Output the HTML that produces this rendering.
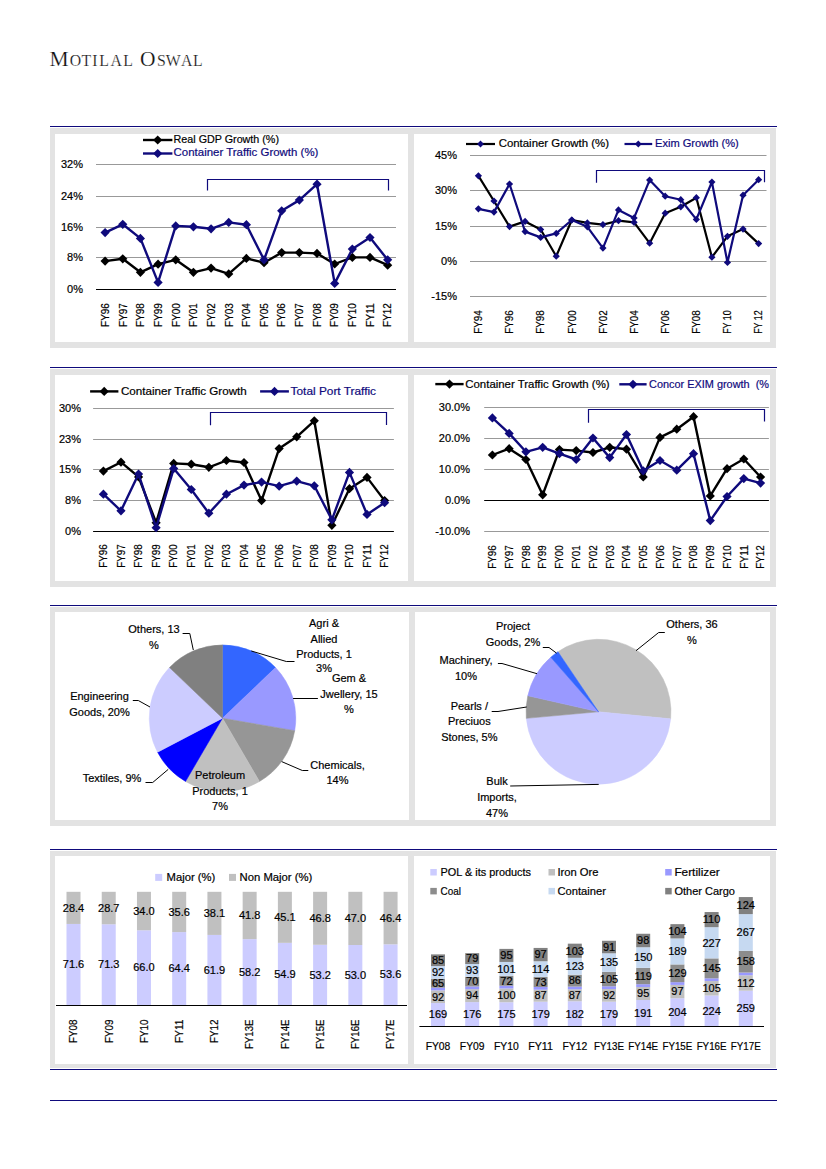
<!DOCTYPE html>
<html><head><meta charset="utf-8"><title>Motilal Oswal</title>
<style>html,body{margin:0;padding:0;background:#fff;}body{width:826px;height:1169px;overflow:hidden;}svg{display:block;font-family:"Liberation Sans", sans-serif;}</style>
</head><body>
<svg width="826" height="1169" viewBox="0 0 826 1169">
<text x="59.15" y="65.6" text-anchor="middle" font-family="Liberation Serif, serif" font-size="21.5" fill="#111" stroke="#fff" stroke-width="0.2">M</text>
<text x="75.45" y="65.6" text-anchor="middle" font-family="Liberation Serif, serif" font-size="15.8" fill="#111" stroke="#fff" stroke-width="0.2">O</text>
<text x="86.25" y="65.6" text-anchor="middle" font-family="Liberation Serif, serif" font-size="15.8" fill="#111" stroke="#fff" stroke-width="0.2">T</text>
<text x="95.00" y="65.6" text-anchor="middle" font-family="Liberation Serif, serif" font-size="15.8" fill="#111" stroke="#fff" stroke-width="0.2">I</text>
<text x="104.10" y="65.6" text-anchor="middle" font-family="Liberation Serif, serif" font-size="15.8" fill="#111" stroke="#fff" stroke-width="0.2">L</text>
<text x="116.30" y="65.6" text-anchor="middle" font-family="Liberation Serif, serif" font-size="15.8" fill="#111" stroke="#fff" stroke-width="0.2">A</text>
<text x="128.00" y="65.6" text-anchor="middle" font-family="Liberation Serif, serif" font-size="15.8" fill="#111" stroke="#fff" stroke-width="0.2">L</text>
<text x="147.80" y="65.6" text-anchor="middle" font-family="Liberation Serif, serif" font-size="21.5" fill="#111" stroke="#fff" stroke-width="0.2">O</text>
<text x="161.40" y="65.6" text-anchor="middle" font-family="Liberation Serif, serif" font-size="15.8" fill="#111" stroke="#fff" stroke-width="0.2">S</text>
<text x="173.25" y="65.6" text-anchor="middle" font-family="Liberation Serif, serif" font-size="15.8" fill="#111" stroke="#fff" stroke-width="0.2">W</text>
<text x="186.60" y="65.6" text-anchor="middle" font-family="Liberation Serif, serif" font-size="15.8" fill="#111" stroke="#fff" stroke-width="0.2">A</text>
<text x="197.95" y="65.6" text-anchor="middle" font-family="Liberation Serif, serif" font-size="15.8" fill="#111" stroke="#fff" stroke-width="0.2">L</text>
<rect x="50.00" y="126.00" width="727.00" height="1.00" fill="#0f0a7c"/>
<rect x="50.00" y="367.00" width="727.00" height="1.00" fill="#0f0a7c"/>
<rect x="50.00" y="605.00" width="727.00" height="1.00" fill="#0f0a7c"/>
<rect x="50.00" y="849.00" width="727.00" height="1.00" fill="#0f0a7c"/>
<rect x="50.00" y="1069.00" width="727.00" height="1.00" fill="#0f0a7c"/>
<rect x="50.00" y="1100.00" width="727.00" height="1.00" fill="#0f0a7c"/>
<rect x="50.00" y="128.00" width="726.00" height="220.00" fill="#e3e3e3"/>
<rect x="55.00" y="134.00" width="353.00" height="208.00" fill="#fff"/>
<rect x="414.00" y="134.00" width="356.00" height="208.00" fill="#fff"/>
<rect x="50.00" y="369.00" width="726.00" height="218.00" fill="#e3e3e3"/>
<rect x="55.00" y="375.00" width="353.00" height="206.00" fill="#fff"/>
<rect x="414.00" y="375.00" width="356.00" height="206.00" fill="#fff"/>
<rect x="50.00" y="607.00" width="726.00" height="219.00" fill="#e3e3e3"/>
<rect x="55.00" y="612.00" width="354.00" height="208.00" fill="#fff"/>
<rect x="415.00" y="612.00" width="355.00" height="208.00" fill="#fff"/>
<rect x="50.00" y="851.00" width="726.00" height="217.00" fill="#e3e3e3"/>
<rect x="55.00" y="856.00" width="353.00" height="208.00" fill="#fff"/>
<rect x="414.00" y="856.00" width="356.00" height="208.00" fill="#fff"/>
<line x1="96.00" y1="164.50" x2="396.00" y2="164.50" stroke="#999999" stroke-width="1"/>
<text x="83.00" y="168.28" font-size="11" text-anchor="end" fill="#000" stroke="#000" stroke-width="0.2" >32%</text>
<line x1="96.00" y1="196.50" x2="396.00" y2="196.50" stroke="#999999" stroke-width="1"/>
<text x="83.00" y="200.28" font-size="11" text-anchor="end" fill="#000" stroke="#000" stroke-width="0.2" >24%</text>
<line x1="96.00" y1="227.50" x2="396.00" y2="227.50" stroke="#999999" stroke-width="1"/>
<text x="83.00" y="231.28" font-size="11" text-anchor="end" fill="#000" stroke="#000" stroke-width="0.2" >16%</text>
<line x1="96.00" y1="257.50" x2="396.00" y2="257.50" stroke="#999999" stroke-width="1"/>
<text x="83.00" y="261.28" font-size="11" text-anchor="end" fill="#000" stroke="#000" stroke-width="0.2" >8%</text>
<line x1="96.00" y1="289.50" x2="396.00" y2="289.50" stroke="#000" stroke-width="1"/>
<text x="83.00" y="293.28" font-size="11" text-anchor="end" fill="#000" stroke="#000" stroke-width="0.2" >0%</text>
<polyline points="105.10,261.10 122.76,258.80 140.42,272.30 158.08,264.20 175.74,259.80 193.40,272.30 211.06,268.10 228.72,273.90 246.38,258.40 264.04,262.70 281.70,252.60 299.36,252.60 317.02,253.40 334.68,264.00 352.34,257.40 370.00,257.40 387.66,265.20" fill="none" stroke="#000" stroke-width="2.4" stroke-linejoin="round"/>
<path d="M105.10,256.50L109.70,261.10L105.10,265.70L100.50,261.10Z" fill="#000"/>
<path d="M122.76,254.20L127.36,258.80L122.76,263.40L118.16,258.80Z" fill="#000"/>
<path d="M140.42,267.70L145.02,272.30L140.42,276.90L135.82,272.30Z" fill="#000"/>
<path d="M158.08,259.60L162.68,264.20L158.08,268.80L153.48,264.20Z" fill="#000"/>
<path d="M175.74,255.20L180.34,259.80L175.74,264.40L171.14,259.80Z" fill="#000"/>
<path d="M193.40,267.70L198.00,272.30L193.40,276.90L188.80,272.30Z" fill="#000"/>
<path d="M211.06,263.50L215.66,268.10L211.06,272.70L206.46,268.10Z" fill="#000"/>
<path d="M228.72,269.30L233.32,273.90L228.72,278.50L224.12,273.90Z" fill="#000"/>
<path d="M246.38,253.80L250.98,258.40L246.38,263.00L241.78,258.40Z" fill="#000"/>
<path d="M264.04,258.10L268.64,262.70L264.04,267.30L259.44,262.70Z" fill="#000"/>
<path d="M281.70,248.00L286.30,252.60L281.70,257.20L277.10,252.60Z" fill="#000"/>
<path d="M299.36,248.00L303.96,252.60L299.36,257.20L294.76,252.60Z" fill="#000"/>
<path d="M317.02,248.80L321.62,253.40L317.02,258.00L312.42,253.40Z" fill="#000"/>
<path d="M334.68,259.40L339.28,264.00L334.68,268.60L330.08,264.00Z" fill="#000"/>
<path d="M352.34,252.80L356.94,257.40L352.34,262.00L347.74,257.40Z" fill="#000"/>
<path d="M370.00,252.80L374.60,257.40L370.00,262.00L365.40,257.40Z" fill="#000"/>
<path d="M387.66,260.60L392.26,265.20L387.66,269.80L383.06,265.20Z" fill="#000"/>
<polyline points="105.10,232.60 122.76,224.30 140.42,238.40 158.08,282.40 175.74,225.90 193.40,226.80 211.06,228.80 228.72,222.40 246.38,224.70 264.04,259.80 281.70,210.80 299.36,200.10 317.02,184.20 334.68,283.40 352.34,249.10 370.00,237.50 387.66,259.80" fill="none" stroke="#0f0a7c" stroke-width="2.4" stroke-linejoin="round"/>
<path d="M105.10,228.00L109.70,232.60L105.10,237.20L100.50,232.60Z" fill="#0f0a7c"/>
<path d="M122.76,219.70L127.36,224.30L122.76,228.90L118.16,224.30Z" fill="#0f0a7c"/>
<path d="M140.42,233.80L145.02,238.40L140.42,243.00L135.82,238.40Z" fill="#0f0a7c"/>
<path d="M158.08,277.80L162.68,282.40L158.08,287.00L153.48,282.40Z" fill="#0f0a7c"/>
<path d="M175.74,221.30L180.34,225.90L175.74,230.50L171.14,225.90Z" fill="#0f0a7c"/>
<path d="M193.40,222.20L198.00,226.80L193.40,231.40L188.80,226.80Z" fill="#0f0a7c"/>
<path d="M211.06,224.20L215.66,228.80L211.06,233.40L206.46,228.80Z" fill="#0f0a7c"/>
<path d="M228.72,217.80L233.32,222.40L228.72,227.00L224.12,222.40Z" fill="#0f0a7c"/>
<path d="M246.38,220.10L250.98,224.70L246.38,229.30L241.78,224.70Z" fill="#0f0a7c"/>
<path d="M264.04,255.20L268.64,259.80L264.04,264.40L259.44,259.80Z" fill="#0f0a7c"/>
<path d="M281.70,206.20L286.30,210.80L281.70,215.40L277.10,210.80Z" fill="#0f0a7c"/>
<path d="M299.36,195.50L303.96,200.10L299.36,204.70L294.76,200.10Z" fill="#0f0a7c"/>
<path d="M317.02,179.60L321.62,184.20L317.02,188.80L312.42,184.20Z" fill="#0f0a7c"/>
<path d="M334.68,278.80L339.28,283.40L334.68,288.00L330.08,283.40Z" fill="#0f0a7c"/>
<path d="M352.34,244.50L356.94,249.10L352.34,253.70L347.74,249.10Z" fill="#0f0a7c"/>
<path d="M370.00,232.90L374.60,237.50L370.00,242.10L365.40,237.50Z" fill="#0f0a7c"/>
<path d="M387.66,255.20L392.26,259.80L387.66,264.40L383.06,259.80Z" fill="#0f0a7c"/>
<text transform="translate(108.88,326.90) rotate(-90)" x="0" y="0" font-size="11" fill="#000" stroke="#000" stroke-width="0.2" textLength="23.70" lengthAdjust="spacingAndGlyphs">FY96</text>
<text transform="translate(126.54,326.90) rotate(-90)" x="0" y="0" font-size="11" fill="#000" stroke="#000" stroke-width="0.2" textLength="23.70" lengthAdjust="spacingAndGlyphs">FY97</text>
<text transform="translate(144.20,326.90) rotate(-90)" x="0" y="0" font-size="11" fill="#000" stroke="#000" stroke-width="0.2" textLength="23.70" lengthAdjust="spacingAndGlyphs">FY98</text>
<text transform="translate(161.86,326.90) rotate(-90)" x="0" y="0" font-size="11" fill="#000" stroke="#000" stroke-width="0.2" textLength="23.70" lengthAdjust="spacingAndGlyphs">FY99</text>
<text transform="translate(179.52,326.90) rotate(-90)" x="0" y="0" font-size="11" fill="#000" stroke="#000" stroke-width="0.2" textLength="23.70" lengthAdjust="spacingAndGlyphs">FY00</text>
<text transform="translate(197.18,326.90) rotate(-90)" x="0" y="0" font-size="11" fill="#000" stroke="#000" stroke-width="0.2" textLength="23.70" lengthAdjust="spacingAndGlyphs">FY01</text>
<text transform="translate(214.84,326.90) rotate(-90)" x="0" y="0" font-size="11" fill="#000" stroke="#000" stroke-width="0.2" textLength="23.70" lengthAdjust="spacingAndGlyphs">FY02</text>
<text transform="translate(232.50,326.90) rotate(-90)" x="0" y="0" font-size="11" fill="#000" stroke="#000" stroke-width="0.2" textLength="23.70" lengthAdjust="spacingAndGlyphs">FY03</text>
<text transform="translate(250.16,326.90) rotate(-90)" x="0" y="0" font-size="11" fill="#000" stroke="#000" stroke-width="0.2" textLength="23.70" lengthAdjust="spacingAndGlyphs">FY04</text>
<text transform="translate(267.82,326.90) rotate(-90)" x="0" y="0" font-size="11" fill="#000" stroke="#000" stroke-width="0.2" textLength="23.70" lengthAdjust="spacingAndGlyphs">FY05</text>
<text transform="translate(285.48,326.90) rotate(-90)" x="0" y="0" font-size="11" fill="#000" stroke="#000" stroke-width="0.2" textLength="23.70" lengthAdjust="spacingAndGlyphs">FY06</text>
<text transform="translate(303.14,326.90) rotate(-90)" x="0" y="0" font-size="11" fill="#000" stroke="#000" stroke-width="0.2" textLength="23.70" lengthAdjust="spacingAndGlyphs">FY07</text>
<text transform="translate(320.80,326.90) rotate(-90)" x="0" y="0" font-size="11" fill="#000" stroke="#000" stroke-width="0.2" textLength="23.70" lengthAdjust="spacingAndGlyphs">FY08</text>
<text transform="translate(338.46,326.90) rotate(-90)" x="0" y="0" font-size="11" fill="#000" stroke="#000" stroke-width="0.2" textLength="23.70" lengthAdjust="spacingAndGlyphs">FY09</text>
<text transform="translate(356.12,326.90) rotate(-90)" x="0" y="0" font-size="11" fill="#000" stroke="#000" stroke-width="0.2" textLength="23.70" lengthAdjust="spacingAndGlyphs">FY10</text>
<text transform="translate(373.78,326.90) rotate(-90)" x="0" y="0" font-size="11" fill="#000" stroke="#000" stroke-width="0.2" textLength="23.70" lengthAdjust="spacingAndGlyphs">FY11</text>
<text transform="translate(391.44,326.90) rotate(-90)" x="0" y="0" font-size="11" fill="#000" stroke="#000" stroke-width="0.2" textLength="23.70" lengthAdjust="spacingAndGlyphs">FY12</text>
<line x1="143.00" y1="140.00" x2="172.40" y2="140.00" stroke="#000" stroke-width="2.4"/>
<path d="M157.70,135.40L162.30,140.00L157.70,144.60L153.10,140.00Z" fill="#000"/>
<text x="173.60" y="142.88" font-size="11" text-anchor="start" fill="#000" stroke="#000" stroke-width="0.2" textLength="105.40" lengthAdjust="spacingAndGlyphs" >Real GDP Growth (%)</text>
<line x1="143.00" y1="153.50" x2="172.40" y2="153.50" stroke="#0f0a7c" stroke-width="2.4"/>
<path d="M157.70,148.90L162.30,153.50L157.70,158.10L153.10,153.50Z" fill="#0f0a7c"/>
<text x="173.60" y="156.38" font-size="11" text-anchor="start" fill="#0f0a7c" stroke="#0f0a7c" stroke-width="0.2" textLength="144.80" lengthAdjust="spacingAndGlyphs" >Container Traffic Growth (%)</text>
<path d="M207.5,190.5V179.5H388.5V190.5" fill="none" stroke="#0f0a7c" stroke-width="1.2"/>
<line x1="470.00" y1="155.50" x2="766.50" y2="155.50" stroke="#999999" stroke-width="1"/>
<text x="457.00" y="159.28" font-size="11" text-anchor="end" fill="#000" stroke="#000" stroke-width="0.2" >45%</text>
<line x1="470.00" y1="190.50" x2="766.50" y2="190.50" stroke="#999999" stroke-width="1"/>
<text x="457.00" y="194.28" font-size="11" text-anchor="end" fill="#000" stroke="#000" stroke-width="0.2" >30%</text>
<line x1="470.00" y1="226.50" x2="766.50" y2="226.50" stroke="#999999" stroke-width="1"/>
<text x="457.00" y="230.28" font-size="11" text-anchor="end" fill="#000" stroke="#000" stroke-width="0.2" >15%</text>
<line x1="470.00" y1="261.50" x2="766.50" y2="261.50" stroke="#999999" stroke-width="1"/>
<text x="457.00" y="265.28" font-size="11" text-anchor="end" fill="#000" stroke="#000" stroke-width="0.2" >0%</text>
<line x1="470.00" y1="296.50" x2="766.50" y2="296.50" stroke="#999999" stroke-width="1"/>
<text x="457.00" y="300.28" font-size="11" text-anchor="end" fill="#000" stroke="#000" stroke-width="0.2" >-15%</text>
<polyline points="478.40,175.80 493.97,201.00 509.53,226.60 525.10,221.40 540.67,229.50 556.24,256.20 571.80,220.00 587.37,222.90 602.94,224.60 618.50,220.70 634.07,222.30 649.64,243.20 665.20,213.20 680.77,206.80 696.34,197.70 711.90,257.20 727.47,236.30 743.04,229.10 758.61,243.60" fill="none" stroke="#000" stroke-width="2.2" stroke-linejoin="round"/>
<path d="M478.40,172.20L482.00,175.80L478.40,179.40L474.80,175.80Z" fill="#0f0a7c"/>
<path d="M493.97,197.40L497.57,201.00L493.97,204.60L490.37,201.00Z" fill="#0f0a7c"/>
<path d="M509.53,223.00L513.13,226.60L509.53,230.20L505.93,226.60Z" fill="#0f0a7c"/>
<path d="M525.10,217.80L528.70,221.40L525.10,225.00L521.50,221.40Z" fill="#0f0a7c"/>
<path d="M540.67,225.90L544.27,229.50L540.67,233.10L537.07,229.50Z" fill="#0f0a7c"/>
<path d="M556.24,252.60L559.84,256.20L556.24,259.80L552.63,256.20Z" fill="#0f0a7c"/>
<path d="M571.80,216.40L575.40,220.00L571.80,223.60L568.20,220.00Z" fill="#0f0a7c"/>
<path d="M587.37,219.30L590.97,222.90L587.37,226.50L583.77,222.90Z" fill="#0f0a7c"/>
<path d="M602.94,221.00L606.54,224.60L602.94,228.20L599.34,224.60Z" fill="#0f0a7c"/>
<path d="M618.50,217.10L622.10,220.70L618.50,224.30L614.90,220.70Z" fill="#0f0a7c"/>
<path d="M634.07,218.70L637.67,222.30L634.07,225.90L630.47,222.30Z" fill="#0f0a7c"/>
<path d="M649.64,239.60L653.24,243.20L649.64,246.80L646.04,243.20Z" fill="#0f0a7c"/>
<path d="M665.20,209.60L668.80,213.20L665.20,216.80L661.60,213.20Z" fill="#0f0a7c"/>
<path d="M680.77,203.20L684.37,206.80L680.77,210.40L677.17,206.80Z" fill="#0f0a7c"/>
<path d="M696.34,194.10L699.94,197.70L696.34,201.30L692.74,197.70Z" fill="#0f0a7c"/>
<path d="M711.90,253.60L715.50,257.20L711.90,260.80L708.30,257.20Z" fill="#0f0a7c"/>
<path d="M727.47,232.70L731.07,236.30L727.47,239.90L723.87,236.30Z" fill="#0f0a7c"/>
<path d="M743.04,225.50L746.64,229.10L743.04,232.70L739.44,229.10Z" fill="#0f0a7c"/>
<path d="M758.61,240.00L762.21,243.60L758.61,247.20L755.01,243.60Z" fill="#0f0a7c"/>
<polyline points="478.40,208.80 493.97,212.10 509.53,184.00 525.10,231.60 540.67,237.40 556.24,233.40 571.80,220.00 587.37,226.80 602.94,248.10 618.50,209.90 634.07,217.90 649.64,180.10 665.20,196.20 680.77,199.70 696.34,219.40 711.90,182.00 727.47,262.40 743.04,195.20 758.61,179.70" fill="none" stroke="#0f0a7c" stroke-width="2.2" stroke-linejoin="round"/>
<path d="M478.40,205.20L482.00,208.80L478.40,212.40L474.80,208.80Z" fill="#0f0a7c"/>
<path d="M493.97,208.50L497.57,212.10L493.97,215.70L490.37,212.10Z" fill="#0f0a7c"/>
<path d="M509.53,180.40L513.13,184.00L509.53,187.60L505.93,184.00Z" fill="#0f0a7c"/>
<path d="M525.10,228.00L528.70,231.60L525.10,235.20L521.50,231.60Z" fill="#0f0a7c"/>
<path d="M540.67,233.80L544.27,237.40L540.67,241.00L537.07,237.40Z" fill="#0f0a7c"/>
<path d="M556.24,229.80L559.84,233.40L556.24,237.00L552.63,233.40Z" fill="#0f0a7c"/>
<path d="M571.80,216.40L575.40,220.00L571.80,223.60L568.20,220.00Z" fill="#0f0a7c"/>
<path d="M587.37,223.20L590.97,226.80L587.37,230.40L583.77,226.80Z" fill="#0f0a7c"/>
<path d="M602.94,244.50L606.54,248.10L602.94,251.70L599.34,248.10Z" fill="#0f0a7c"/>
<path d="M618.50,206.30L622.10,209.90L618.50,213.50L614.90,209.90Z" fill="#0f0a7c"/>
<path d="M634.07,214.30L637.67,217.90L634.07,221.50L630.47,217.90Z" fill="#0f0a7c"/>
<path d="M649.64,176.50L653.24,180.10L649.64,183.70L646.04,180.10Z" fill="#0f0a7c"/>
<path d="M665.20,192.60L668.80,196.20L665.20,199.80L661.60,196.20Z" fill="#0f0a7c"/>
<path d="M680.77,196.10L684.37,199.70L680.77,203.30L677.17,199.70Z" fill="#0f0a7c"/>
<path d="M696.34,215.80L699.94,219.40L696.34,223.00L692.74,219.40Z" fill="#0f0a7c"/>
<path d="M711.90,178.40L715.50,182.00L711.90,185.60L708.30,182.00Z" fill="#0f0a7c"/>
<path d="M727.47,258.80L731.07,262.40L727.47,266.00L723.87,262.40Z" fill="#0f0a7c"/>
<path d="M743.04,191.60L746.64,195.20L743.04,198.80L739.44,195.20Z" fill="#0f0a7c"/>
<path d="M758.61,176.10L762.21,179.70L758.61,183.30L755.01,179.70Z" fill="#0f0a7c"/>
<text transform="translate(482.18,333.80) rotate(-90)" x="0" y="0" font-size="11" fill="#000" stroke="#000" stroke-width="0.2" textLength="23.50" lengthAdjust="spacingAndGlyphs">FY94</text>
<text transform="translate(513.32,333.80) rotate(-90)" x="0" y="0" font-size="11" fill="#000" stroke="#000" stroke-width="0.2" textLength="23.50" lengthAdjust="spacingAndGlyphs">FY96</text>
<text transform="translate(544.45,333.80) rotate(-90)" x="0" y="0" font-size="11" fill="#000" stroke="#000" stroke-width="0.2" textLength="23.50" lengthAdjust="spacingAndGlyphs">FY98</text>
<text transform="translate(575.59,333.80) rotate(-90)" x="0" y="0" font-size="11" fill="#000" stroke="#000" stroke-width="0.2" textLength="23.50" lengthAdjust="spacingAndGlyphs">FY00</text>
<text transform="translate(606.72,333.80) rotate(-90)" x="0" y="0" font-size="11" fill="#000" stroke="#000" stroke-width="0.2" textLength="23.50" lengthAdjust="spacingAndGlyphs">FY02</text>
<text transform="translate(637.85,333.80) rotate(-90)" x="0" y="0" font-size="11" fill="#000" stroke="#000" stroke-width="0.2" textLength="23.50" lengthAdjust="spacingAndGlyphs">FY04</text>
<text transform="translate(668.99,333.80) rotate(-90)" x="0" y="0" font-size="11" fill="#000" stroke="#000" stroke-width="0.2" textLength="23.50" lengthAdjust="spacingAndGlyphs">FY06</text>
<text transform="translate(700.12,333.80) rotate(-90)" x="0" y="0" font-size="11" fill="#000" stroke="#000" stroke-width="0.2" textLength="23.50" lengthAdjust="spacingAndGlyphs">FY08</text>
<text transform="translate(731.26,333.80) rotate(-90)" x="0" y="0" font-size="11" fill="#000" stroke="#000" stroke-width="0.2" textLength="23.50" lengthAdjust="spacingAndGlyphs">FY 10</text>
<text transform="translate(762.39,333.80) rotate(-90)" x="0" y="0" font-size="11" fill="#000" stroke="#000" stroke-width="0.2" textLength="23.50" lengthAdjust="spacingAndGlyphs">FY 12</text>
<line x1="466.00" y1="144.00" x2="495.00" y2="144.00" stroke="#000" stroke-width="2.2"/>
<path d="M480.50,140.60L483.90,144.00L480.50,147.40L477.10,144.00Z" fill="#0f0a7c"/>
<text x="498.70" y="147.08" font-size="11" text-anchor="start" fill="#000" stroke="#000" stroke-width="0.2" textLength="110.30" lengthAdjust="spacingAndGlyphs" >Container Growth (%)</text>
<line x1="624.50" y1="144.00" x2="652.20" y2="144.00" stroke="#0f0a7c" stroke-width="2.2"/>
<path d="M638.30,140.60L641.70,144.00L638.30,147.40L634.90,144.00Z" fill="#0f0a7c"/>
<text x="655.00" y="147.08" font-size="11" text-anchor="start" fill="#0f0a7c" stroke="#0f0a7c" stroke-width="0.2" textLength="83.80" lengthAdjust="spacingAndGlyphs" >Exim Growth (%)</text>
<path d="M596.5,182.8V170.5H764.5V182.2" fill="none" stroke="#0f0a7c" stroke-width="1.2"/>
<line x1="93.10" y1="408.50" x2="393.90" y2="408.50" stroke="#999999" stroke-width="1"/>
<text x="81.00" y="412.28" font-size="11" text-anchor="end" fill="#000" stroke="#000" stroke-width="0.2" >30%</text>
<line x1="93.10" y1="439.50" x2="393.90" y2="439.50" stroke="#999999" stroke-width="1"/>
<text x="81.00" y="443.28" font-size="11" text-anchor="end" fill="#000" stroke="#000" stroke-width="0.2" >23%</text>
<line x1="93.10" y1="469.50" x2="393.90" y2="469.50" stroke="#999999" stroke-width="1"/>
<text x="81.00" y="473.28" font-size="11" text-anchor="end" fill="#000" stroke="#000" stroke-width="0.2" >15%</text>
<line x1="93.10" y1="500.50" x2="393.90" y2="500.50" stroke="#999999" stroke-width="1"/>
<text x="81.00" y="504.28" font-size="11" text-anchor="end" fill="#000" stroke="#000" stroke-width="0.2" >8%</text>
<line x1="93.10" y1="531.50" x2="393.90" y2="531.50" stroke="#000" stroke-width="1"/>
<text x="81.00" y="535.28" font-size="11" text-anchor="end" fill="#000" stroke="#000" stroke-width="0.2" >0%</text>
<polyline points="103.40,471.10 120.98,462.20 138.55,476.90 156.12,522.80 173.70,463.40 191.28,464.20 208.85,467.30 226.43,460.50 244.00,462.50 261.57,500.60 279.15,448.60 296.73,436.80 314.30,420.80 331.88,525.30 349.45,488.70 367.02,477.40 384.60,500.60" fill="none" stroke="#000" stroke-width="2.4" stroke-linejoin="round"/>
<path d="M103.40,466.50L108.00,471.10L103.40,475.70L98.80,471.10Z" fill="#000"/>
<path d="M120.98,457.60L125.58,462.20L120.98,466.80L116.38,462.20Z" fill="#000"/>
<path d="M138.55,472.30L143.15,476.90L138.55,481.50L133.95,476.90Z" fill="#000"/>
<path d="M156.12,518.20L160.72,522.80L156.12,527.40L151.53,522.80Z" fill="#000"/>
<path d="M173.70,458.80L178.30,463.40L173.70,468.00L169.10,463.40Z" fill="#000"/>
<path d="M191.28,459.60L195.88,464.20L191.28,468.80L186.68,464.20Z" fill="#000"/>
<path d="M208.85,462.70L213.45,467.30L208.85,471.90L204.25,467.30Z" fill="#000"/>
<path d="M226.43,455.90L231.03,460.50L226.43,465.10L221.83,460.50Z" fill="#000"/>
<path d="M244.00,457.90L248.60,462.50L244.00,467.10L239.40,462.50Z" fill="#000"/>
<path d="M261.57,496.00L266.18,500.60L261.57,505.20L256.97,500.60Z" fill="#000"/>
<path d="M279.15,444.00L283.75,448.60L279.15,453.20L274.55,448.60Z" fill="#000"/>
<path d="M296.73,432.20L301.33,436.80L296.73,441.40L292.12,436.80Z" fill="#000"/>
<path d="M314.30,416.20L318.90,420.80L314.30,425.40L309.70,420.80Z" fill="#000"/>
<path d="M331.88,520.70L336.48,525.30L331.88,529.90L327.27,525.30Z" fill="#000"/>
<path d="M349.45,484.10L354.05,488.70L349.45,493.30L344.85,488.70Z" fill="#000"/>
<path d="M367.02,472.80L371.62,477.40L367.02,482.00L362.42,477.40Z" fill="#000"/>
<path d="M384.60,496.00L389.20,500.60L384.60,505.20L380.00,500.60Z" fill="#000"/>
<polyline points="103.40,494.20 120.98,510.80 138.55,474.00 156.12,527.70 173.70,468.60 191.28,489.50 208.85,513.20 226.43,494.20 244.00,485.10 261.57,482.10 279.15,486.20 296.73,481.10 314.30,485.80 331.88,519.80 349.45,472.40 367.02,514.40 384.60,502.70" fill="none" stroke="#0f0a7c" stroke-width="2.4" stroke-linejoin="round"/>
<path d="M103.40,489.60L108.00,494.20L103.40,498.80L98.80,494.20Z" fill="#0f0a7c"/>
<path d="M120.98,506.20L125.58,510.80L120.98,515.40L116.38,510.80Z" fill="#0f0a7c"/>
<path d="M138.55,469.40L143.15,474.00L138.55,478.60L133.95,474.00Z" fill="#0f0a7c"/>
<path d="M156.12,523.10L160.72,527.70L156.12,532.30L151.53,527.70Z" fill="#0f0a7c"/>
<path d="M173.70,464.00L178.30,468.60L173.70,473.20L169.10,468.60Z" fill="#0f0a7c"/>
<path d="M191.28,484.90L195.88,489.50L191.28,494.10L186.68,489.50Z" fill="#0f0a7c"/>
<path d="M208.85,508.60L213.45,513.20L208.85,517.80L204.25,513.20Z" fill="#0f0a7c"/>
<path d="M226.43,489.60L231.03,494.20L226.43,498.80L221.83,494.20Z" fill="#0f0a7c"/>
<path d="M244.00,480.50L248.60,485.10L244.00,489.70L239.40,485.10Z" fill="#0f0a7c"/>
<path d="M261.57,477.50L266.18,482.10L261.57,486.70L256.97,482.10Z" fill="#0f0a7c"/>
<path d="M279.15,481.60L283.75,486.20L279.15,490.80L274.55,486.20Z" fill="#0f0a7c"/>
<path d="M296.73,476.50L301.33,481.10L296.73,485.70L292.12,481.10Z" fill="#0f0a7c"/>
<path d="M314.30,481.20L318.90,485.80L314.30,490.40L309.70,485.80Z" fill="#0f0a7c"/>
<path d="M331.88,515.20L336.48,519.80L331.88,524.40L327.27,519.80Z" fill="#0f0a7c"/>
<path d="M349.45,467.80L354.05,472.40L349.45,477.00L344.85,472.40Z" fill="#0f0a7c"/>
<path d="M367.02,509.80L371.62,514.40L367.02,519.00L362.42,514.40Z" fill="#0f0a7c"/>
<path d="M384.60,498.10L389.20,502.70L384.60,507.30L380.00,502.70Z" fill="#0f0a7c"/>
<text transform="translate(107.18,567.70) rotate(-90)" x="0" y="0" font-size="11" fill="#000" stroke="#000" stroke-width="0.2" textLength="23.50" lengthAdjust="spacingAndGlyphs">FY96</text>
<text transform="translate(124.76,567.70) rotate(-90)" x="0" y="0" font-size="11" fill="#000" stroke="#000" stroke-width="0.2" textLength="23.50" lengthAdjust="spacingAndGlyphs">FY97</text>
<text transform="translate(142.33,567.70) rotate(-90)" x="0" y="0" font-size="11" fill="#000" stroke="#000" stroke-width="0.2" textLength="23.50" lengthAdjust="spacingAndGlyphs">FY98</text>
<text transform="translate(159.91,567.70) rotate(-90)" x="0" y="0" font-size="11" fill="#000" stroke="#000" stroke-width="0.2" textLength="23.50" lengthAdjust="spacingAndGlyphs">FY99</text>
<text transform="translate(177.48,567.70) rotate(-90)" x="0" y="0" font-size="11" fill="#000" stroke="#000" stroke-width="0.2" textLength="23.50" lengthAdjust="spacingAndGlyphs">FY00</text>
<text transform="translate(195.06,567.70) rotate(-90)" x="0" y="0" font-size="11" fill="#000" stroke="#000" stroke-width="0.2" textLength="23.50" lengthAdjust="spacingAndGlyphs">FY01</text>
<text transform="translate(212.63,567.70) rotate(-90)" x="0" y="0" font-size="11" fill="#000" stroke="#000" stroke-width="0.2" textLength="23.50" lengthAdjust="spacingAndGlyphs">FY02</text>
<text transform="translate(230.21,567.70) rotate(-90)" x="0" y="0" font-size="11" fill="#000" stroke="#000" stroke-width="0.2" textLength="23.50" lengthAdjust="spacingAndGlyphs">FY03</text>
<text transform="translate(247.78,567.70) rotate(-90)" x="0" y="0" font-size="11" fill="#000" stroke="#000" stroke-width="0.2" textLength="23.50" lengthAdjust="spacingAndGlyphs">FY04</text>
<text transform="translate(265.36,567.70) rotate(-90)" x="0" y="0" font-size="11" fill="#000" stroke="#000" stroke-width="0.2" textLength="23.50" lengthAdjust="spacingAndGlyphs">FY05</text>
<text transform="translate(282.93,567.70) rotate(-90)" x="0" y="0" font-size="11" fill="#000" stroke="#000" stroke-width="0.2" textLength="23.50" lengthAdjust="spacingAndGlyphs">FY06</text>
<text transform="translate(300.51,567.70) rotate(-90)" x="0" y="0" font-size="11" fill="#000" stroke="#000" stroke-width="0.2" textLength="23.50" lengthAdjust="spacingAndGlyphs">FY07</text>
<text transform="translate(318.08,567.70) rotate(-90)" x="0" y="0" font-size="11" fill="#000" stroke="#000" stroke-width="0.2" textLength="23.50" lengthAdjust="spacingAndGlyphs">FY08</text>
<text transform="translate(335.66,567.70) rotate(-90)" x="0" y="0" font-size="11" fill="#000" stroke="#000" stroke-width="0.2" textLength="23.50" lengthAdjust="spacingAndGlyphs">FY09</text>
<text transform="translate(353.23,567.70) rotate(-90)" x="0" y="0" font-size="11" fill="#000" stroke="#000" stroke-width="0.2" textLength="23.50" lengthAdjust="spacingAndGlyphs">FY10</text>
<text transform="translate(370.81,567.70) rotate(-90)" x="0" y="0" font-size="11" fill="#000" stroke="#000" stroke-width="0.2" textLength="23.50" lengthAdjust="spacingAndGlyphs">FY11</text>
<text transform="translate(388.38,567.70) rotate(-90)" x="0" y="0" font-size="11" fill="#000" stroke="#000" stroke-width="0.2" textLength="23.50" lengthAdjust="spacingAndGlyphs">FY12</text>
<line x1="90.10" y1="391.40" x2="118.40" y2="391.40" stroke="#000" stroke-width="2.4"/>
<path d="M104.20,386.80L108.80,391.40L104.20,396.00L99.60,391.40Z" fill="#000"/>
<text x="120.90" y="395.18" font-size="11" text-anchor="start" fill="#000" stroke="#000" stroke-width="0.2" textLength="125.90" lengthAdjust="spacingAndGlyphs" >Container Traffic Growth</text>
<line x1="260.10" y1="391.40" x2="288.90" y2="391.40" stroke="#0f0a7c" stroke-width="2.4"/>
<path d="M274.50,386.80L279.10,391.40L274.50,396.00L269.90,391.40Z" fill="#0f0a7c"/>
<text x="290.60" y="395.18" font-size="11" text-anchor="start" fill="#0f0a7c" stroke="#0f0a7c" stroke-width="0.2" textLength="85.40" lengthAdjust="spacingAndGlyphs" >Total Port Traffic</text>
<path d="M210.5,425.3V412.5H386.5V424.9" fill="none" stroke="#0f0a7c" stroke-width="1.2"/>
<line x1="484.20" y1="407.50" x2="768.90" y2="407.50" stroke="#999999" stroke-width="1"/>
<text x="470.00" y="411.28" font-size="11" text-anchor="end" fill="#000" stroke="#000" stroke-width="0.2" >30.0%</text>
<line x1="484.20" y1="438.50" x2="768.90" y2="438.50" stroke="#999999" stroke-width="1"/>
<text x="470.00" y="442.28" font-size="11" text-anchor="end" fill="#000" stroke="#000" stroke-width="0.2" >20.0%</text>
<line x1="484.20" y1="469.50" x2="768.90" y2="469.50" stroke="#999999" stroke-width="1"/>
<text x="470.00" y="473.28" font-size="11" text-anchor="end" fill="#000" stroke="#000" stroke-width="0.2" >10.0%</text>
<line x1="484.20" y1="500.50" x2="768.90" y2="500.50" stroke="#000" stroke-width="1"/>
<text x="470.00" y="504.28" font-size="11" text-anchor="end" fill="#000" stroke="#000" stroke-width="0.2" >0.0%</text>
<line x1="484.20" y1="531.50" x2="768.90" y2="531.50" stroke="#999999" stroke-width="1"/>
<text x="470.00" y="535.28" font-size="11" text-anchor="end" fill="#000" stroke="#000" stroke-width="0.2" >-10.0%</text>
<polyline points="492.40,455.00 509.16,448.70 525.92,459.50 542.68,494.80 559.44,449.60 576.20,450.60 592.96,452.50 609.72,447.30 626.48,449.20 643.24,477.00 660.00,437.40 676.76,429.20 693.52,416.70 710.28,495.90 727.04,468.70 743.80,459.00 760.56,477.00" fill="none" stroke="#000" stroke-width="2.4" stroke-linejoin="round"/>
<path d="M492.40,450.40L497.00,455.00L492.40,459.60L487.80,455.00Z" fill="#000"/>
<path d="M509.16,444.10L513.76,448.70L509.16,453.30L504.56,448.70Z" fill="#000"/>
<path d="M525.92,454.90L530.52,459.50L525.92,464.10L521.32,459.50Z" fill="#000"/>
<path d="M542.68,490.20L547.28,494.80L542.68,499.40L538.08,494.80Z" fill="#000"/>
<path d="M559.44,445.00L564.04,449.60L559.44,454.20L554.84,449.60Z" fill="#000"/>
<path d="M576.20,446.00L580.80,450.60L576.20,455.20L571.60,450.60Z" fill="#000"/>
<path d="M592.96,447.90L597.56,452.50L592.96,457.10L588.36,452.50Z" fill="#000"/>
<path d="M609.72,442.70L614.32,447.30L609.72,451.90L605.12,447.30Z" fill="#000"/>
<path d="M626.48,444.60L631.08,449.20L626.48,453.80L621.88,449.20Z" fill="#000"/>
<path d="M643.24,472.40L647.84,477.00L643.24,481.60L638.64,477.00Z" fill="#000"/>
<path d="M660.00,432.80L664.60,437.40L660.00,442.00L655.40,437.40Z" fill="#000"/>
<path d="M676.76,424.60L681.36,429.20L676.76,433.80L672.16,429.20Z" fill="#000"/>
<path d="M693.52,412.10L698.12,416.70L693.52,421.30L688.92,416.70Z" fill="#000"/>
<path d="M710.28,491.30L714.88,495.90L710.28,500.50L705.68,495.90Z" fill="#000"/>
<path d="M727.04,464.10L731.64,468.70L727.04,473.30L722.44,468.70Z" fill="#000"/>
<path d="M743.80,454.40L748.40,459.00L743.80,463.60L739.20,459.00Z" fill="#000"/>
<path d="M760.56,472.40L765.16,477.00L760.56,481.60L755.96,477.00Z" fill="#000"/>
<polyline points="492.40,417.90 509.16,433.40 525.92,451.80 542.68,447.30 559.44,453.70 576.20,459.50 592.96,438.00 609.72,457.60 626.48,434.50 643.24,470.80 660.00,460.50 676.76,470.20 693.52,453.70 710.28,520.60 727.04,496.50 743.80,478.60 760.56,483.10" fill="none" stroke="#0f0a7c" stroke-width="2.4" stroke-linejoin="round"/>
<path d="M492.40,413.30L497.00,417.90L492.40,422.50L487.80,417.90Z" fill="#0f0a7c"/>
<path d="M509.16,428.80L513.76,433.40L509.16,438.00L504.56,433.40Z" fill="#0f0a7c"/>
<path d="M525.92,447.20L530.52,451.80L525.92,456.40L521.32,451.80Z" fill="#0f0a7c"/>
<path d="M542.68,442.70L547.28,447.30L542.68,451.90L538.08,447.30Z" fill="#0f0a7c"/>
<path d="M559.44,449.10L564.04,453.70L559.44,458.30L554.84,453.70Z" fill="#0f0a7c"/>
<path d="M576.20,454.90L580.80,459.50L576.20,464.10L571.60,459.50Z" fill="#0f0a7c"/>
<path d="M592.96,433.40L597.56,438.00L592.96,442.60L588.36,438.00Z" fill="#0f0a7c"/>
<path d="M609.72,453.00L614.32,457.60L609.72,462.20L605.12,457.60Z" fill="#0f0a7c"/>
<path d="M626.48,429.90L631.08,434.50L626.48,439.10L621.88,434.50Z" fill="#0f0a7c"/>
<path d="M643.24,466.20L647.84,470.80L643.24,475.40L638.64,470.80Z" fill="#0f0a7c"/>
<path d="M660.00,455.90L664.60,460.50L660.00,465.10L655.40,460.50Z" fill="#0f0a7c"/>
<path d="M676.76,465.60L681.36,470.20L676.76,474.80L672.16,470.20Z" fill="#0f0a7c"/>
<path d="M693.52,449.10L698.12,453.70L693.52,458.30L688.92,453.70Z" fill="#0f0a7c"/>
<path d="M710.28,516.00L714.88,520.60L710.28,525.20L705.68,520.60Z" fill="#0f0a7c"/>
<path d="M727.04,491.90L731.64,496.50L727.04,501.10L722.44,496.50Z" fill="#0f0a7c"/>
<path d="M743.80,474.00L748.40,478.60L743.80,483.20L739.20,478.60Z" fill="#0f0a7c"/>
<path d="M760.56,478.50L765.16,483.10L760.56,487.70L755.96,483.10Z" fill="#0f0a7c"/>
<text transform="translate(496.18,568.70) rotate(-90)" x="0" y="0" font-size="11" fill="#000" stroke="#000" stroke-width="0.2" textLength="23.50" lengthAdjust="spacingAndGlyphs">FY96</text>
<text transform="translate(512.94,568.70) rotate(-90)" x="0" y="0" font-size="11" fill="#000" stroke="#000" stroke-width="0.2" textLength="23.50" lengthAdjust="spacingAndGlyphs">FY97</text>
<text transform="translate(529.70,568.70) rotate(-90)" x="0" y="0" font-size="11" fill="#000" stroke="#000" stroke-width="0.2" textLength="23.50" lengthAdjust="spacingAndGlyphs">FY98</text>
<text transform="translate(546.46,568.70) rotate(-90)" x="0" y="0" font-size="11" fill="#000" stroke="#000" stroke-width="0.2" textLength="23.50" lengthAdjust="spacingAndGlyphs">FY99</text>
<text transform="translate(563.22,568.70) rotate(-90)" x="0" y="0" font-size="11" fill="#000" stroke="#000" stroke-width="0.2" textLength="23.50" lengthAdjust="spacingAndGlyphs">FY00</text>
<text transform="translate(579.98,568.70) rotate(-90)" x="0" y="0" font-size="11" fill="#000" stroke="#000" stroke-width="0.2" textLength="23.50" lengthAdjust="spacingAndGlyphs">FY01</text>
<text transform="translate(596.74,568.70) rotate(-90)" x="0" y="0" font-size="11" fill="#000" stroke="#000" stroke-width="0.2" textLength="23.50" lengthAdjust="spacingAndGlyphs">FY02</text>
<text transform="translate(613.50,568.70) rotate(-90)" x="0" y="0" font-size="11" fill="#000" stroke="#000" stroke-width="0.2" textLength="23.50" lengthAdjust="spacingAndGlyphs">FY03</text>
<text transform="translate(630.26,568.70) rotate(-90)" x="0" y="0" font-size="11" fill="#000" stroke="#000" stroke-width="0.2" textLength="23.50" lengthAdjust="spacingAndGlyphs">FY04</text>
<text transform="translate(647.02,568.70) rotate(-90)" x="0" y="0" font-size="11" fill="#000" stroke="#000" stroke-width="0.2" textLength="23.50" lengthAdjust="spacingAndGlyphs">FY05</text>
<text transform="translate(663.78,568.70) rotate(-90)" x="0" y="0" font-size="11" fill="#000" stroke="#000" stroke-width="0.2" textLength="23.50" lengthAdjust="spacingAndGlyphs">FY06</text>
<text transform="translate(680.54,568.70) rotate(-90)" x="0" y="0" font-size="11" fill="#000" stroke="#000" stroke-width="0.2" textLength="23.50" lengthAdjust="spacingAndGlyphs">FY07</text>
<text transform="translate(697.30,568.70) rotate(-90)" x="0" y="0" font-size="11" fill="#000" stroke="#000" stroke-width="0.2" textLength="23.50" lengthAdjust="spacingAndGlyphs">FY08</text>
<text transform="translate(714.06,568.70) rotate(-90)" x="0" y="0" font-size="11" fill="#000" stroke="#000" stroke-width="0.2" textLength="23.50" lengthAdjust="spacingAndGlyphs">FY09</text>
<text transform="translate(730.82,568.70) rotate(-90)" x="0" y="0" font-size="11" fill="#000" stroke="#000" stroke-width="0.2" textLength="23.50" lengthAdjust="spacingAndGlyphs">FY10</text>
<text transform="translate(747.58,568.70) rotate(-90)" x="0" y="0" font-size="11" fill="#000" stroke="#000" stroke-width="0.2" textLength="23.50" lengthAdjust="spacingAndGlyphs">FY11</text>
<text transform="translate(764.34,568.70) rotate(-90)" x="0" y="0" font-size="11" fill="#000" stroke="#000" stroke-width="0.2" textLength="23.50" lengthAdjust="spacingAndGlyphs">FY12</text>
<line x1="435.30" y1="384.10" x2="463.60" y2="384.10" stroke="#000" stroke-width="2.4"/>
<path d="M449.50,379.50L454.10,384.10L449.50,388.70L444.90,384.10Z" fill="#000"/>
<text x="465.30" y="387.88" font-size="11" text-anchor="start" fill="#000" stroke="#000" stroke-width="0.2" textLength="144.30" lengthAdjust="spacingAndGlyphs" >Container Traffic Growth (%)</text>
<line x1="619.30" y1="384.30" x2="646.60" y2="384.30" stroke="#0f0a7c" stroke-width="2.4"/>
<path d="M633.00,379.70L637.60,384.30L633.00,388.90L628.40,384.30Z" fill="#0f0a7c"/>
<clipPath id="cp4"><rect x="414" y="375" width="356" height="206"/></clipPath>
<g clip-path="url(#cp4)">
<text x="649.10" y="388.08" font-size="11" text-anchor="start" fill="#0f0a7c" stroke="#0f0a7c" stroke-width="0.2" textLength="119.90" lengthAdjust="spacingAndGlyphs" >Concor EXIM growth &#160;(%</text>
</g>
<path d="M588.5,422.8V409.5H764.5V421.4" fill="none" stroke="#0f0a7c" stroke-width="1.2"/>
<path d="M222.50,718.20L222.50,644.90A73.3,73.3 0 0 1 275.53,667.59Z" fill="#3366FF" stroke="#3366FF" stroke-width="0.5" stroke-linejoin="round"/>
<path d="M222.50,718.20L275.53,667.59A73.3,73.3 0 0 1 294.73,730.68Z" fill="#9999FF" stroke="#9999FF" stroke-width="0.5" stroke-linejoin="round"/>
<path d="M222.50,718.20L294.73,730.68A73.3,73.3 0 0 1 259.48,781.49Z" fill="#969696" stroke="#969696" stroke-width="0.5" stroke-linejoin="round"/>
<path d="M222.50,718.20L259.48,781.49A73.3,73.3 0 0 1 185.52,781.49Z" fill="#C0C0C0" stroke="#C0C0C0" stroke-width="0.5" stroke-linejoin="round"/>
<path d="M222.50,718.20L185.52,781.49A73.3,73.3 0 0 1 157.56,752.19Z" fill="#0000FF" stroke="#0000FF" stroke-width="0.5" stroke-linejoin="round"/>
<path d="M222.50,718.20L157.56,752.19A73.3,73.3 0 0 1 169.47,667.59Z" fill="#CCCCFF" stroke="#CCCCFF" stroke-width="0.5" stroke-linejoin="round"/>
<path d="M222.50,718.20L169.47,667.59A73.3,73.3 0 0 1 222.50,644.90Z" fill="#808080" stroke="#808080" stroke-width="0.5" stroke-linejoin="round"/>
<text x="324.00" y="627.08" font-size="11" text-anchor="middle" fill="#000" stroke="#000" stroke-width="0.2" >Agri &</text>
<text x="324.00" y="642.58" font-size="11" text-anchor="middle" fill="#000" stroke="#000" stroke-width="0.2" >Allied</text>
<text x="324.00" y="657.98" font-size="11" text-anchor="middle" fill="#000" stroke="#000" stroke-width="0.2" >Products, 1</text>
<text x="324.00" y="672.38" font-size="11" text-anchor="middle" fill="#000" stroke="#000" stroke-width="0.2" >3%</text>
<text x="349.00" y="682.08" font-size="11" text-anchor="middle" fill="#000" stroke="#000" stroke-width="0.2" >Gem &</text>
<text x="349.00" y="698.08" font-size="11" text-anchor="middle" fill="#000" stroke="#000" stroke-width="0.2" >Jwellery, 15</text>
<text x="349.00" y="712.88" font-size="11" text-anchor="middle" fill="#000" stroke="#000" stroke-width="0.2" >%</text>
<text x="337.50" y="769.28" font-size="11" text-anchor="middle" fill="#000" stroke="#000" stroke-width="0.2" >Chemicals,</text>
<text x="337.50" y="784.28" font-size="11" text-anchor="middle" fill="#000" stroke="#000" stroke-width="0.2" >14%</text>
<text x="220.00" y="779.48" font-size="11" text-anchor="middle" fill="#000" stroke="#000" stroke-width="0.2" >Petroleum</text>
<text x="220.00" y="795.18" font-size="11" text-anchor="middle" fill="#000" stroke="#000" stroke-width="0.2" >Products, 1</text>
<text x="220.00" y="810.48" font-size="11" text-anchor="middle" fill="#000" stroke="#000" stroke-width="0.2" >7%</text>
<text x="112.00" y="782.48" font-size="11" text-anchor="middle" fill="#000" stroke="#000" stroke-width="0.2" >Textiles, 9%</text>
<text x="99.50" y="700.18" font-size="11" text-anchor="middle" fill="#000" stroke="#000" stroke-width="0.2" >Engineering</text>
<text x="99.50" y="715.98" font-size="11" text-anchor="middle" fill="#000" stroke="#000" stroke-width="0.2" >Goods, 20%</text>
<text x="154.00" y="633.28" font-size="11" text-anchor="middle" fill="#000" stroke="#000" stroke-width="0.2" >Others, 13</text>
<text x="154.00" y="648.68" font-size="11" text-anchor="middle" fill="#000" stroke="#000" stroke-width="0.2" >%</text>
<path d="M251.3,651L286.3,661.5H294.5" fill="none" stroke="#000" stroke-width="1"/>
<path d="M293.1,698.5H317.9" fill="none" stroke="#000" stroke-width="1"/>
<path d="M281.7,761.6L302.3,770.5H308.3" fill="none" stroke="#000" stroke-width="1"/>
<path d="M145.5,782.5H152.7L168.2,769.4" fill="none" stroke="#000" stroke-width="1"/>
<path d="M132.8,700.5H138.3L150,707" fill="none" stroke="#000" stroke-width="1"/>
<path d="M182.6,633.5H189.8L193.3,650" fill="none" stroke="#000" stroke-width="1"/>
<path d="M598.50,711.80L557.96,651.69A72.5,72.5 0 0 1 670.65,718.87Z" fill="#C0C0C0" stroke="#C0C0C0" stroke-width="0.5" stroke-linejoin="round"/>
<path d="M598.50,711.80L670.65,718.87A72.5,72.5 0 0 1 526.30,718.37Z" fill="#CCCCFF" stroke="#CCCCFF" stroke-width="0.5" stroke-linejoin="round"/>
<path d="M598.50,711.80L526.30,718.37A72.5,72.5 0 0 1 527.80,695.74Z" fill="#969696" stroke="#969696" stroke-width="0.5" stroke-linejoin="round"/>
<path d="M598.50,711.80L527.80,695.74A72.5,72.5 0 0 1 550.75,657.25Z" fill="#9999FF" stroke="#9999FF" stroke-width="0.5" stroke-linejoin="round"/>
<path d="M598.50,711.80L550.75,657.25A72.5,72.5 0 0 1 557.96,651.69Z" fill="#3366FF" stroke="#3366FF" stroke-width="0.5" stroke-linejoin="round"/>
<text x="513.00" y="630.18" font-size="11" text-anchor="middle" fill="#000" stroke="#000" stroke-width="0.2" >Project</text>
<text x="513.00" y="646.28" font-size="11" text-anchor="middle" fill="#000" stroke="#000" stroke-width="0.2" >Goods, 2%</text>
<text x="466.00" y="664.18" font-size="11" text-anchor="middle" fill="#000" stroke="#000" stroke-width="0.2" >Machinery,</text>
<text x="466.00" y="679.58" font-size="11" text-anchor="middle" fill="#000" stroke="#000" stroke-width="0.2" >10%</text>
<text x="469.30" y="710.08" font-size="11" text-anchor="middle" fill="#000" stroke="#000" stroke-width="0.2" >Pearls /</text>
<text x="469.30" y="725.38" font-size="11" text-anchor="middle" fill="#000" stroke="#000" stroke-width="0.2" >Preciuos</text>
<text x="469.30" y="741.28" font-size="11" text-anchor="middle" fill="#000" stroke="#000" stroke-width="0.2" >Stones, 5%</text>
<text x="497.00" y="785.08" font-size="11" text-anchor="middle" fill="#000" stroke="#000" stroke-width="0.2" >Bulk</text>
<text x="497.00" y="800.88" font-size="11" text-anchor="middle" fill="#000" stroke="#000" stroke-width="0.2" >Imports,</text>
<text x="497.00" y="816.58" font-size="11" text-anchor="middle" fill="#000" stroke="#000" stroke-width="0.2" >47%</text>
<text x="692.00" y="628.08" font-size="11" text-anchor="middle" fill="#000" stroke="#000" stroke-width="0.2" >Others, 36</text>
<text x="692.00" y="644.18" font-size="11" text-anchor="middle" fill="#000" stroke="#000" stroke-width="0.2" >%</text>
<path d="M542.8,647.5H549L556.6,653.2" fill="none" stroke="#000" stroke-width="1"/>
<path d="M497.9,663.5H502L537,673.7" fill="none" stroke="#000" stroke-width="1"/>
<path d="M491.7,711.5H498L526.7,707" fill="none" stroke="#000" stroke-width="1"/>
<path d="M510.2,786L598.7,784.4" fill="none" stroke="#000" stroke-width="1"/>
<path d="M664.8,632.5H658.7L636,650.7" fill="none" stroke="#000" stroke-width="1"/>
<rect x="66.50" y="923.95" width="14.00" height="81.05" fill="#CCCCFF"/>
<rect x="66.50" y="891.80" width="14.00" height="32.15" fill="#C0C0C0"/>
<text x="73.50" y="911.66" font-size="11" text-anchor="middle" fill="#000" stroke="#000" stroke-width="0.2" >28.4</text>
<text x="73.50" y="968.26" font-size="11" text-anchor="middle" fill="#000" stroke="#000" stroke-width="0.2" >71.6</text>
<rect x="101.73" y="924.29" width="14.00" height="80.71" fill="#CCCCFF"/>
<rect x="101.73" y="891.80" width="14.00" height="32.49" fill="#C0C0C0"/>
<text x="108.73" y="911.83" font-size="11" text-anchor="middle" fill="#000" stroke="#000" stroke-width="0.2" >28.7</text>
<text x="108.73" y="968.43" font-size="11" text-anchor="middle" fill="#000" stroke="#000" stroke-width="0.2" >71.3</text>
<rect x="136.96" y="930.29" width="14.00" height="74.71" fill="#CCCCFF"/>
<rect x="136.96" y="891.80" width="14.00" height="38.49" fill="#C0C0C0"/>
<text x="143.96" y="914.83" font-size="11" text-anchor="middle" fill="#000" stroke="#000" stroke-width="0.2" >34.0</text>
<text x="143.96" y="971.43" font-size="11" text-anchor="middle" fill="#000" stroke="#000" stroke-width="0.2" >66.0</text>
<rect x="172.19" y="932.10" width="14.00" height="72.90" fill="#CCCCFF"/>
<rect x="172.19" y="891.80" width="14.00" height="40.30" fill="#C0C0C0"/>
<text x="179.19" y="915.73" font-size="11" text-anchor="middle" fill="#000" stroke="#000" stroke-width="0.2" >35.6</text>
<text x="179.19" y="972.33" font-size="11" text-anchor="middle" fill="#000" stroke="#000" stroke-width="0.2" >64.4</text>
<rect x="207.42" y="934.93" width="14.00" height="70.07" fill="#CCCCFF"/>
<rect x="207.42" y="891.80" width="14.00" height="43.13" fill="#C0C0C0"/>
<text x="214.42" y="917.15" font-size="11" text-anchor="middle" fill="#000" stroke="#000" stroke-width="0.2" >38.1</text>
<text x="214.42" y="973.75" font-size="11" text-anchor="middle" fill="#000" stroke="#000" stroke-width="0.2" >61.9</text>
<rect x="242.65" y="939.12" width="14.00" height="65.88" fill="#CCCCFF"/>
<rect x="242.65" y="891.80" width="14.00" height="47.32" fill="#C0C0C0"/>
<text x="249.65" y="919.24" font-size="11" text-anchor="middle" fill="#000" stroke="#000" stroke-width="0.2" >41.8</text>
<text x="249.65" y="975.84" font-size="11" text-anchor="middle" fill="#000" stroke="#000" stroke-width="0.2" >58.2</text>
<rect x="277.88" y="942.85" width="14.00" height="62.15" fill="#CCCCFF"/>
<rect x="277.88" y="891.80" width="14.00" height="51.05" fill="#C0C0C0"/>
<text x="284.88" y="921.11" font-size="11" text-anchor="middle" fill="#000" stroke="#000" stroke-width="0.2" >45.1</text>
<text x="284.88" y="977.71" font-size="11" text-anchor="middle" fill="#000" stroke="#000" stroke-width="0.2" >54.9</text>
<rect x="313.11" y="944.78" width="14.00" height="60.22" fill="#CCCCFF"/>
<rect x="313.11" y="891.80" width="14.00" height="52.98" fill="#C0C0C0"/>
<text x="320.11" y="922.07" font-size="11" text-anchor="middle" fill="#000" stroke="#000" stroke-width="0.2" >46.8</text>
<text x="320.11" y="978.67" font-size="11" text-anchor="middle" fill="#000" stroke="#000" stroke-width="0.2" >53.2</text>
<rect x="348.34" y="945.00" width="14.00" height="60.00" fill="#CCCCFF"/>
<rect x="348.34" y="891.80" width="14.00" height="53.20" fill="#C0C0C0"/>
<text x="355.34" y="922.19" font-size="11" text-anchor="middle" fill="#000" stroke="#000" stroke-width="0.2" >47.0</text>
<text x="355.34" y="978.79" font-size="11" text-anchor="middle" fill="#000" stroke="#000" stroke-width="0.2" >53.0</text>
<rect x="383.57" y="944.32" width="14.00" height="60.68" fill="#CCCCFF"/>
<rect x="383.57" y="891.80" width="14.00" height="52.52" fill="#C0C0C0"/>
<text x="390.57" y="921.85" font-size="11" text-anchor="middle" fill="#000" stroke="#000" stroke-width="0.2" >46.4</text>
<text x="390.57" y="978.45" font-size="11" text-anchor="middle" fill="#000" stroke="#000" stroke-width="0.2" >53.6</text>
<line x1="56.00" y1="1005.50" x2="407.00" y2="1005.50" stroke="#000" stroke-width="1.2"/>
<text transform="translate(77.28,1043.10) rotate(-90)" x="0" y="0" font-size="11" fill="#000" stroke="#000" stroke-width="0.2" textLength="23.60" lengthAdjust="spacingAndGlyphs">FY08</text>
<text transform="translate(112.51,1043.10) rotate(-90)" x="0" y="0" font-size="11" fill="#000" stroke="#000" stroke-width="0.2" textLength="23.60" lengthAdjust="spacingAndGlyphs">FY09</text>
<text transform="translate(147.74,1043.10) rotate(-90)" x="0" y="0" font-size="11" fill="#000" stroke="#000" stroke-width="0.2" textLength="23.60" lengthAdjust="spacingAndGlyphs">FY10</text>
<text transform="translate(182.97,1043.10) rotate(-90)" x="0" y="0" font-size="11" fill="#000" stroke="#000" stroke-width="0.2" textLength="23.60" lengthAdjust="spacingAndGlyphs">FY11</text>
<text transform="translate(218.20,1043.10) rotate(-90)" x="0" y="0" font-size="11" fill="#000" stroke="#000" stroke-width="0.2" textLength="23.60" lengthAdjust="spacingAndGlyphs">FY12</text>
<text transform="translate(253.43,1049.10) rotate(-90)" x="0" y="0" font-size="11" fill="#000" stroke="#000" stroke-width="0.2" textLength="29.60" lengthAdjust="spacingAndGlyphs">FY13E</text>
<text transform="translate(288.66,1049.10) rotate(-90)" x="0" y="0" font-size="11" fill="#000" stroke="#000" stroke-width="0.2" textLength="29.60" lengthAdjust="spacingAndGlyphs">FY14E</text>
<text transform="translate(323.89,1049.10) rotate(-90)" x="0" y="0" font-size="11" fill="#000" stroke="#000" stroke-width="0.2" textLength="29.60" lengthAdjust="spacingAndGlyphs">FY15E</text>
<text transform="translate(359.12,1049.10) rotate(-90)" x="0" y="0" font-size="11" fill="#000" stroke="#000" stroke-width="0.2" textLength="29.60" lengthAdjust="spacingAndGlyphs">FY16E</text>
<text transform="translate(394.35,1049.10) rotate(-90)" x="0" y="0" font-size="11" fill="#000" stroke="#000" stroke-width="0.2" textLength="29.60" lengthAdjust="spacingAndGlyphs">FY17E</text>
<rect x="155.20" y="873.90" width="7.00" height="7.00" fill="#CCCCFF"/>
<text x="166.60" y="881.08" font-size="11" text-anchor="start" fill="#000" stroke="#000" stroke-width="0.2" textLength="48.60" lengthAdjust="spacingAndGlyphs" >Major (%)</text>
<rect x="229.00" y="873.90" width="7.00" height="7.00" fill="#C0C0C0"/>
<text x="239.60" y="881.08" font-size="11" text-anchor="start" fill="#000" stroke="#000" stroke-width="0.2" textLength="72.70" lengthAdjust="spacingAndGlyphs" >Non Major (%)</text>
<rect x="431.00" y="1003.06" width="14.00" height="23.24" fill="#CCCCFF"/>
<text x="438.00" y="1018.47" font-size="11" text-anchor="middle" fill="#000" stroke="#000" stroke-width="0.2" >169</text>
<rect x="431.00" y="990.41" width="14.00" height="12.65" fill="#C0C0C0"/>
<text x="438.00" y="1000.52" font-size="11" text-anchor="middle" fill="#000" stroke="#000" stroke-width="0.2" >92</text>
<rect x="431.00" y="987.66" width="14.00" height="2.75" fill="#9999FF"/>
<rect x="431.00" y="978.73" width="14.00" height="8.94" fill="#8C8C8C"/>
<text x="438.00" y="986.98" font-size="11" text-anchor="middle" fill="#000" stroke="#000" stroke-width="0.2" >65</text>
<rect x="431.00" y="966.08" width="14.00" height="12.65" fill="#C6D9F1"/>
<text x="438.00" y="976.18" font-size="11" text-anchor="middle" fill="#000" stroke="#000" stroke-width="0.2" >92</text>
<rect x="431.00" y="954.39" width="14.00" height="11.69" fill="#808080"/>
<text x="438.00" y="964.02" font-size="11" text-anchor="middle" fill="#000" stroke="#000" stroke-width="0.2" >85</text>
<rect x="465.20" y="1002.10" width="14.00" height="24.20" fill="#CCCCFF"/>
<text x="472.20" y="1017.98" font-size="11" text-anchor="middle" fill="#000" stroke="#000" stroke-width="0.2" >176</text>
<rect x="465.20" y="989.17" width="14.00" height="12.93" fill="#C0C0C0"/>
<text x="472.20" y="999.42" font-size="11" text-anchor="middle" fill="#000" stroke="#000" stroke-width="0.2" >94</text>
<rect x="465.20" y="986.42" width="14.00" height="2.75" fill="#9999FF"/>
<rect x="465.20" y="976.80" width="14.00" height="9.62" fill="#8C8C8C"/>
<text x="472.20" y="985.40" font-size="11" text-anchor="middle" fill="#000" stroke="#000" stroke-width="0.2" >70</text>
<rect x="465.20" y="964.01" width="14.00" height="12.79" fill="#C6D9F1"/>
<text x="472.20" y="974.19" font-size="11" text-anchor="middle" fill="#000" stroke="#000" stroke-width="0.2" >93</text>
<rect x="465.20" y="953.15" width="14.00" height="10.86" fill="#808080"/>
<text x="472.20" y="962.37" font-size="11" text-anchor="middle" fill="#000" stroke="#000" stroke-width="0.2" >79</text>
<rect x="499.40" y="1002.24" width="14.00" height="24.06" fill="#CCCCFF"/>
<text x="506.40" y="1018.05" font-size="11" text-anchor="middle" fill="#000" stroke="#000" stroke-width="0.2" >175</text>
<rect x="499.40" y="988.49" width="14.00" height="13.75" fill="#C0C0C0"/>
<text x="506.40" y="999.15" font-size="11" text-anchor="middle" fill="#000" stroke="#000" stroke-width="0.2" >100</text>
<rect x="499.40" y="985.74" width="14.00" height="2.75" fill="#9999FF"/>
<rect x="499.40" y="975.84" width="14.00" height="9.90" fill="#8C8C8C"/>
<text x="506.40" y="984.57" font-size="11" text-anchor="middle" fill="#000" stroke="#000" stroke-width="0.2" >72</text>
<rect x="499.40" y="961.95" width="14.00" height="13.89" fill="#C6D9F1"/>
<text x="506.40" y="972.68" font-size="11" text-anchor="middle" fill="#000" stroke="#000" stroke-width="0.2" >101</text>
<rect x="499.40" y="948.89" width="14.00" height="13.06" fill="#808080"/>
<text x="506.40" y="959.20" font-size="11" text-anchor="middle" fill="#000" stroke="#000" stroke-width="0.2" >95</text>
<rect x="533.60" y="1001.69" width="14.00" height="24.61" fill="#CCCCFF"/>
<text x="540.60" y="1017.78" font-size="11" text-anchor="middle" fill="#000" stroke="#000" stroke-width="0.2" >179</text>
<rect x="533.60" y="989.73" width="14.00" height="11.96" fill="#C0C0C0"/>
<text x="540.60" y="999.49" font-size="11" text-anchor="middle" fill="#000" stroke="#000" stroke-width="0.2" >87</text>
<rect x="533.60" y="986.98" width="14.00" height="2.75" fill="#9999FF"/>
<rect x="533.60" y="976.94" width="14.00" height="10.04" fill="#8C8C8C"/>
<text x="540.60" y="985.74" font-size="11" text-anchor="middle" fill="#000" stroke="#000" stroke-width="0.2" >73</text>
<rect x="533.60" y="961.26" width="14.00" height="15.68" fill="#C6D9F1"/>
<text x="540.60" y="972.88" font-size="11" text-anchor="middle" fill="#000" stroke="#000" stroke-width="0.2" >114</text>
<rect x="533.60" y="947.93" width="14.00" height="13.34" fill="#808080"/>
<text x="540.60" y="958.38" font-size="11" text-anchor="middle" fill="#000" stroke="#000" stroke-width="0.2" >97</text>
<rect x="567.80" y="1001.27" width="14.00" height="25.03" fill="#CCCCFF"/>
<text x="574.80" y="1017.57" font-size="11" text-anchor="middle" fill="#000" stroke="#000" stroke-width="0.2" >182</text>
<rect x="567.80" y="989.31" width="14.00" height="11.96" fill="#C0C0C0"/>
<text x="574.80" y="999.08" font-size="11" text-anchor="middle" fill="#000" stroke="#000" stroke-width="0.2" >87</text>
<rect x="567.80" y="986.56" width="14.00" height="2.75" fill="#9999FF"/>
<rect x="567.80" y="974.74" width="14.00" height="11.83" fill="#8C8C8C"/>
<text x="574.80" y="984.43" font-size="11" text-anchor="middle" fill="#000" stroke="#000" stroke-width="0.2" >86</text>
<rect x="567.80" y="957.82" width="14.00" height="16.91" fill="#C6D9F1"/>
<text x="574.80" y="970.07" font-size="11" text-anchor="middle" fill="#000" stroke="#000" stroke-width="0.2" >123</text>
<rect x="567.80" y="943.66" width="14.00" height="14.16" fill="#808080"/>
<text x="574.80" y="954.53" font-size="11" text-anchor="middle" fill="#000" stroke="#000" stroke-width="0.2" >103</text>
<rect x="602.00" y="1001.69" width="14.00" height="24.61" fill="#CCCCFF"/>
<text x="609.00" y="1017.78" font-size="11" text-anchor="middle" fill="#000" stroke="#000" stroke-width="0.2" >179</text>
<rect x="602.00" y="989.04" width="14.00" height="12.65" fill="#C0C0C0"/>
<text x="609.00" y="999.15" font-size="11" text-anchor="middle" fill="#000" stroke="#000" stroke-width="0.2" >92</text>
<rect x="602.00" y="986.29" width="14.00" height="2.75" fill="#9999FF"/>
<rect x="602.00" y="971.85" width="14.00" height="14.44" fill="#8C8C8C"/>
<text x="609.00" y="982.85" font-size="11" text-anchor="middle" fill="#000" stroke="#000" stroke-width="0.2" >105</text>
<rect x="602.00" y="953.29" width="14.00" height="18.56" fill="#C6D9F1"/>
<text x="609.00" y="966.35" font-size="11" text-anchor="middle" fill="#000" stroke="#000" stroke-width="0.2" >135</text>
<rect x="602.00" y="940.77" width="14.00" height="12.51" fill="#808080"/>
<text x="609.00" y="950.82" font-size="11" text-anchor="middle" fill="#000" stroke="#000" stroke-width="0.2" >91</text>
<rect x="636.20" y="1000.04" width="14.00" height="26.26" fill="#CCCCFF"/>
<text x="643.20" y="1016.95" font-size="11" text-anchor="middle" fill="#000" stroke="#000" stroke-width="0.2" >191</text>
<rect x="636.20" y="986.97" width="14.00" height="13.06" fill="#C0C0C0"/>
<text x="643.20" y="997.29" font-size="11" text-anchor="middle" fill="#000" stroke="#000" stroke-width="0.2" >95</text>
<rect x="636.20" y="984.22" width="14.00" height="2.75" fill="#9999FF"/>
<rect x="636.20" y="967.86" width="14.00" height="16.36" fill="#8C8C8C"/>
<text x="643.20" y="979.83" font-size="11" text-anchor="middle" fill="#000" stroke="#000" stroke-width="0.2" >119</text>
<rect x="636.20" y="947.24" width="14.00" height="20.62" fill="#C6D9F1"/>
<text x="643.20" y="961.33" font-size="11" text-anchor="middle" fill="#000" stroke="#000" stroke-width="0.2" >150</text>
<rect x="636.20" y="933.76" width="14.00" height="13.48" fill="#808080"/>
<text x="643.20" y="944.28" font-size="11" text-anchor="middle" fill="#000" stroke="#000" stroke-width="0.2" >98</text>
<rect x="670.40" y="998.25" width="14.00" height="28.05" fill="#CCCCFF"/>
<text x="677.40" y="1016.06" font-size="11" text-anchor="middle" fill="#000" stroke="#000" stroke-width="0.2" >204</text>
<rect x="670.40" y="984.91" width="14.00" height="13.34" fill="#C0C0C0"/>
<text x="677.40" y="995.37" font-size="11" text-anchor="middle" fill="#000" stroke="#000" stroke-width="0.2" >97</text>
<rect x="670.40" y="982.16" width="14.00" height="2.75" fill="#9999FF"/>
<rect x="670.40" y="964.43" width="14.00" height="17.74" fill="#8C8C8C"/>
<text x="677.40" y="977.08" font-size="11" text-anchor="middle" fill="#000" stroke="#000" stroke-width="0.2" >129</text>
<rect x="670.40" y="938.44" width="14.00" height="25.99" fill="#C6D9F1"/>
<text x="677.40" y="955.22" font-size="11" text-anchor="middle" fill="#000" stroke="#000" stroke-width="0.2" >189</text>
<rect x="670.40" y="924.14" width="14.00" height="14.30" fill="#808080"/>
<text x="677.40" y="935.07" font-size="11" text-anchor="middle" fill="#000" stroke="#000" stroke-width="0.2" >104</text>
<rect x="704.60" y="995.50" width="14.00" height="30.80" fill="#CCCCFF"/>
<text x="711.60" y="1014.68" font-size="11" text-anchor="middle" fill="#000" stroke="#000" stroke-width="0.2" >224</text>
<rect x="704.60" y="981.06" width="14.00" height="14.44" fill="#C0C0C0"/>
<text x="711.60" y="992.07" font-size="11" text-anchor="middle" fill="#000" stroke="#000" stroke-width="0.2" >105</text>
<rect x="704.60" y="978.31" width="14.00" height="2.75" fill="#9999FF"/>
<rect x="704.60" y="958.38" width="14.00" height="19.94" fill="#8C8C8C"/>
<text x="711.60" y="972.13" font-size="11" text-anchor="middle" fill="#000" stroke="#000" stroke-width="0.2" >145</text>
<rect x="704.60" y="927.16" width="14.00" height="31.21" fill="#C6D9F1"/>
<text x="711.60" y="946.55" font-size="11" text-anchor="middle" fill="#000" stroke="#000" stroke-width="0.2" >227</text>
<rect x="704.60" y="912.04" width="14.00" height="15.13" fill="#808080"/>
<text x="711.60" y="923.38" font-size="11" text-anchor="middle" fill="#000" stroke="#000" stroke-width="0.2" >110</text>
<rect x="738.80" y="990.69" width="14.00" height="35.61" fill="#CCCCFF"/>
<text x="745.80" y="1012.28" font-size="11" text-anchor="middle" fill="#000" stroke="#000" stroke-width="0.2" >259</text>
<rect x="738.80" y="975.29" width="14.00" height="15.40" fill="#C0C0C0"/>
<text x="745.80" y="986.77" font-size="11" text-anchor="middle" fill="#000" stroke="#000" stroke-width="0.2" >112</text>
<rect x="738.80" y="972.54" width="14.00" height="2.75" fill="#9999FF"/>
<rect x="738.80" y="950.81" width="14.00" height="21.73" fill="#8C8C8C"/>
<text x="745.80" y="965.46" font-size="11" text-anchor="middle" fill="#000" stroke="#000" stroke-width="0.2" >158</text>
<rect x="738.80" y="914.10" width="14.00" height="36.71" fill="#C6D9F1"/>
<text x="745.80" y="936.24" font-size="11" text-anchor="middle" fill="#000" stroke="#000" stroke-width="0.2" >267</text>
<rect x="738.80" y="897.05" width="14.00" height="17.05" fill="#808080"/>
<text x="745.80" y="909.36" font-size="11" text-anchor="middle" fill="#000" stroke="#000" stroke-width="0.2" >124</text>
<line x1="419.40" y1="1026.50" x2="764.00" y2="1026.50" stroke="#000" stroke-width="1.2"/>
<text x="438.00" y="1049.88" font-size="11" text-anchor="middle" fill="#000" stroke="#000" stroke-width="0.2" textLength="24.70" lengthAdjust="spacingAndGlyphs" >FY08</text>
<text x="472.20" y="1049.88" font-size="11" text-anchor="middle" fill="#000" stroke="#000" stroke-width="0.2" textLength="24.70" lengthAdjust="spacingAndGlyphs" >FY09</text>
<text x="506.40" y="1049.88" font-size="11" text-anchor="middle" fill="#000" stroke="#000" stroke-width="0.2" textLength="24.70" lengthAdjust="spacingAndGlyphs" >FY10</text>
<text x="540.60" y="1049.88" font-size="11" text-anchor="middle" fill="#000" stroke="#000" stroke-width="0.2" textLength="24.70" lengthAdjust="spacingAndGlyphs" >FY11</text>
<text x="574.80" y="1049.88" font-size="11" text-anchor="middle" fill="#000" stroke="#000" stroke-width="0.2" textLength="24.70" lengthAdjust="spacingAndGlyphs" >FY12</text>
<text x="609.00" y="1049.88" font-size="11" text-anchor="middle" fill="#000" stroke="#000" stroke-width="0.2" textLength="29.90" lengthAdjust="spacingAndGlyphs" >FY13E</text>
<text x="643.20" y="1049.88" font-size="11" text-anchor="middle" fill="#000" stroke="#000" stroke-width="0.2" textLength="29.90" lengthAdjust="spacingAndGlyphs" >FY14E</text>
<text x="677.40" y="1049.88" font-size="11" text-anchor="middle" fill="#000" stroke="#000" stroke-width="0.2" textLength="29.90" lengthAdjust="spacingAndGlyphs" >FY15E</text>
<text x="711.60" y="1049.88" font-size="11" text-anchor="middle" fill="#000" stroke="#000" stroke-width="0.2" textLength="29.90" lengthAdjust="spacingAndGlyphs" >FY16E</text>
<text x="745.80" y="1049.88" font-size="11" text-anchor="middle" fill="#000" stroke="#000" stroke-width="0.2" textLength="29.90" lengthAdjust="spacingAndGlyphs" >FY17E</text>
<rect x="430.30" y="869.00" width="6.50" height="6.50" fill="#CCCCFF"/>
<text x="440.60" y="875.98" font-size="11" text-anchor="start" fill="#000" stroke="#000" stroke-width="0.2" textLength="90.40" lengthAdjust="spacingAndGlyphs" >POL &amp; its products</text>
<rect x="548.50" y="869.00" width="6.50" height="6.50" fill="#C0C0C0"/>
<text x="557.40" y="875.98" font-size="11" text-anchor="start" fill="#000" stroke="#000" stroke-width="0.2" textLength="41.20" lengthAdjust="spacingAndGlyphs" >Iron Ore</text>
<rect x="665.20" y="869.00" width="6.50" height="6.50" fill="#9999FF"/>
<text x="674.40" y="875.98" font-size="11" text-anchor="start" fill="#000" stroke="#000" stroke-width="0.2" textLength="45.30" lengthAdjust="spacingAndGlyphs" >Fertilizer</text>
<rect x="430.30" y="887.90" width="6.50" height="6.50" fill="#8C8C8C"/>
<text x="440.60" y="894.88" font-size="11" text-anchor="start" fill="#000" stroke="#000" stroke-width="0.2" textLength="20.40" lengthAdjust="spacingAndGlyphs" >Coal</text>
<rect x="548.50" y="887.90" width="6.50" height="6.50" fill="#C6D9F1"/>
<text x="557.40" y="894.88" font-size="11" text-anchor="start" fill="#000" stroke="#000" stroke-width="0.2" textLength="48.50" lengthAdjust="spacingAndGlyphs" >Container</text>
<rect x="665.20" y="887.90" width="6.50" height="6.50" fill="#808080"/>
<text x="674.40" y="894.88" font-size="11" text-anchor="start" fill="#000" stroke="#000" stroke-width="0.2" textLength="60.60" lengthAdjust="spacingAndGlyphs" >Other Cargo</text>
</svg>
</body></html>
